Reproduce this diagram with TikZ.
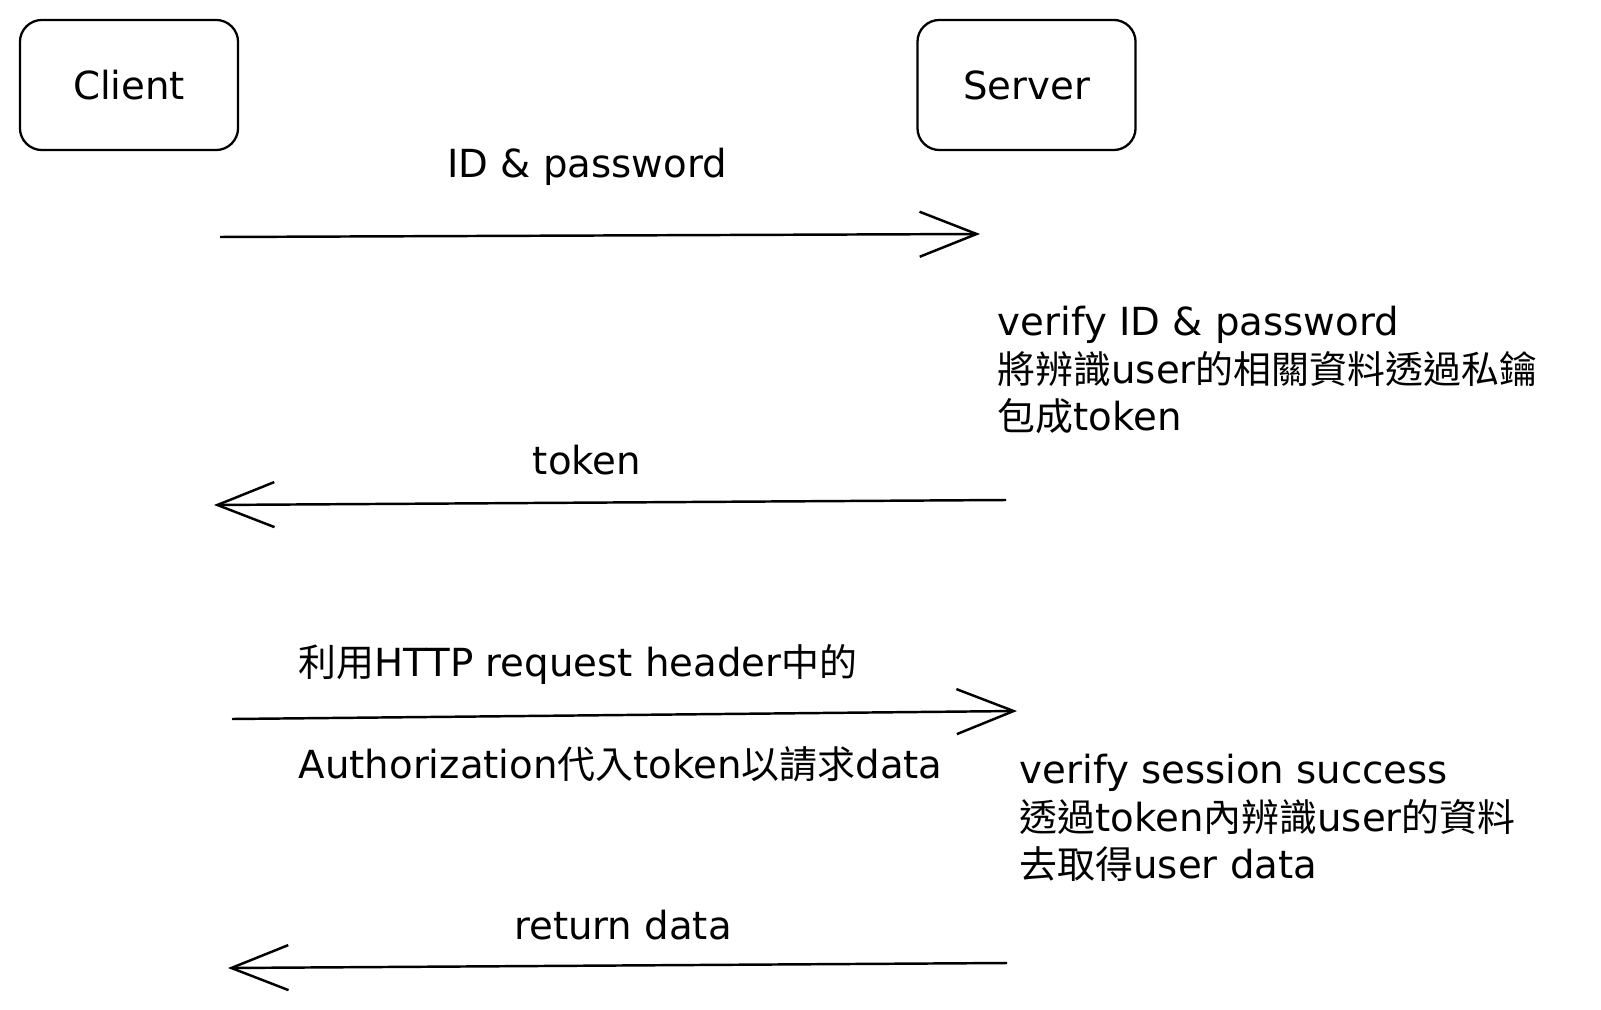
\documentclass[tikz,border=0pt]{standalone}
\usepackage{fontspec}
\setmainfont{DejaVu Sans}
\newfontfamily\cjk[Scale=0.98]{Noto Sans CJK TC}
\usetikzlibrary{arrows.meta}
\begin{document}
\begin{tikzpicture}
  [x=0.01cm,y=-0.01cm,
   box/.style={draw,line width=0.65pt,rounded corners=0.22cm,minimum width=2.18cm,minimum height=1.3cm,font=\fontsize{11}{13}\selectfont},
   msg/.style={inner sep=0pt,font=\fontsize{11}{13.6}\selectfont},
   note/.style={inner sep=0pt,anchor=west,align=left,font=\fontsize{11}{13.6}\selectfont},
   flow/.style={line width=0.7pt,-{Straight Barb[length=0.57cm,width=0.45cm,line width=0.7pt]}}]
\useasboundingbox (0,0) rectangle (1601,1010);

\node (client)[box] at (129,85) {Client};
  \node (server)[box] at (1026.5,85) {Server};

\coordinate (r1s) at (220,237);  \coordinate (r1e) at (980,234);
  \coordinate (r2s) at (1006,500); \coordinate (r2e) at (214,505);
  \coordinate (r3s) at (232,719);  \coordinate (r3e) at (1017,711);
  \coordinate (r4s) at (1007,963); \coordinate (r4e) at (228,968);

 \foreach \from/\to in {r1s/r1e,r2s/r2e,r3s/r3e,r4s/r4e}
    \draw[flow] (\from) -- (\to);

\node (login)[msg] at (587,167) {ID \& password};
  \node (token)[msg] at (587,460) {token};
  \node (req1)[msg,anchor=west] at (298,665) {{\cjk 利用}HTTP request header{\cjk 中的}};
  \node (req2)[msg,anchor=west] at (298,764) {Authorization{\cjk 代入}token{\cjk 以請求}data};
  \node (back)[msg] at (623,925) {return data};

\node (check1)[note] at (997,370) {verify ID \& password\\{\cjk 將辨識}user{\cjk 的相關資料透過私鑰}\\{\cjk 包成}token};
  \node (check2)[note] at (1019,818) {verify session success\\{\cjk 透過}token{\cjk 內辨識}user{\cjk 的資料}\\{\cjk 去取得}user data};

\end{tikzpicture}
\end{document}
